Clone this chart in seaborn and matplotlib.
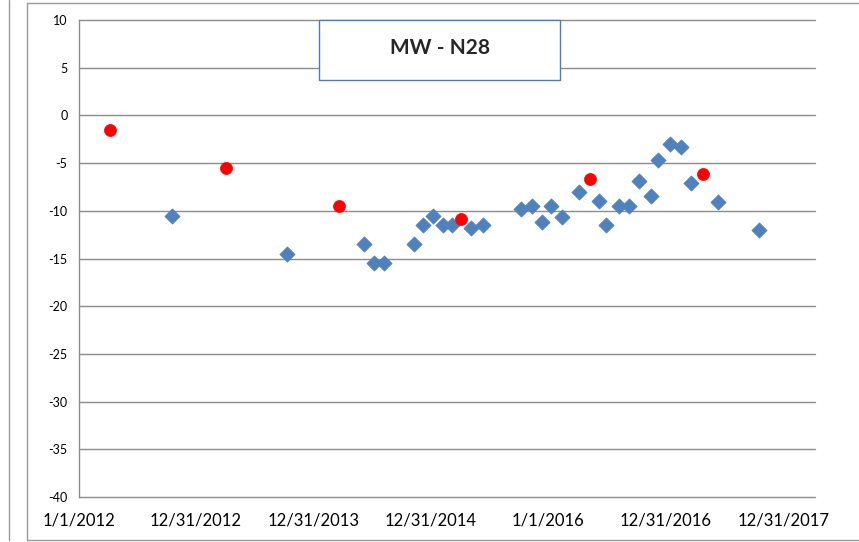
import matplotlib
matplotlib.use("Agg")
import matplotlib.pyplot as plt
from matplotlib.patches import Rectangle
from matplotlib.lines import Line2D
import seaborn as sns
import pandas as pd

# blue diamonds (monitoring readings)
blue_dates = ["2012-10-19", "2013-10-11", "2014-06-07", "2014-07-08", "2014-08-08",
              "2014-11-09", "2014-12-08", "2015-01-06", "2015-02-06", "2015-03-07",
              "2015-05-06", "2015-06-11", "2015-10-09", "2015-11-11", "2015-12-11",
              "2016-01-09", "2016-02-11", "2016-04-05", "2016-06-07", "2016-06-29",
              "2016-08-07", "2016-09-07", "2016-10-09", "2016-11-14", "2016-12-06",
              "2017-01-12", "2017-02-15", "2017-03-21", "2017-06-12", "2017-10-18"]
blue_values = [-10.5, -14.5, -13.5, -15.5, -15.5,
               -13.5, -11.5, -10.5, -11.5, -11.5,
               -11.8, -11.5, -9.8, -9.5, -11.2,
               -9.5, -10.6, -8.0, -9.0, -11.5,
               -9.5, -9.5, -6.9, -8.4, -4.7,
               -3.0, -3.3, -7.1, -9.1, -12.0]

# red circles
red_dates = ["2012-04-09", "2013-04-05", "2014-03-21", "2015-04-03", "2016-05-08", "2017-04-27"]
red_values = [-1.5, -5.5, -9.5, -10.9, -6.7, -6.1]

tick_dates = ["2012-01-01", "2012-12-31", "2013-12-31", "2014-12-31",
              "2016-01-01", "2016-12-31", "2017-12-31"]
tick_labels = ["1/1/2012", "12/31/2012", "12/31/2013", "12/31/2014",
               "1/1/2016", "12/31/2016", "12/31/2017"]
y_ticks = [10, 5, 0, -5, -10, -15, -20, -25, -30, -35, -40]

blue_df = pd.DataFrame({"date": pd.to_datetime(blue_dates), "value": blue_values})
red_df = pd.DataFrame({"date": pd.to_datetime(red_dates), "value": red_values})

sns.set_style("white")
plt.rcParams["font.family"] = ["Lato", "DejaVu Sans"]

fig = plt.figure(figsize=(8.59, 5.42), dpi=100)
ax = fig.add_axes([78.5 / 859, 45 / 542, (815 - 78.5) / 859, (497 - 20) / 542])

grid_color = "#8c8c8c"
for y in y_ticks:
    ax.axhline(y, color=grid_color, lw=1, zorder=0, clip_on=False)

sns.scatterplot(data=blue_df, x="date", y="value", marker="D", s=60,
                color="#4f81bd", edgecolor="#4f81bd", linewidth=0.5, ax=ax, zorder=3)
sns.scatterplot(data=red_df, x="date", y="value", marker="o", s=75,
                color="#ff0000", edgecolor="#ff0000", linewidth=0.5, ax=ax, zorder=4)

ax.set_ylim(-40, 10)
ax.set_yticks(y_ticks)
ax.set_yticklabels([str(v) for v in y_ticks], fontsize=9)
ax.set_xlim(pd.Timestamp("2012-01-01"), pd.Timestamp("2018-04-09"))
ax.set_xticks(pd.to_datetime(tick_dates))
ax.set_xticklabels(tick_labels, fontsize=12)
ax.tick_params(axis="both", direction="out", length=5, width=1, color=grid_color,
               colors="black")
ax.tick_params(axis="x", pad=6)
ax.tick_params(axis="y", pad=3)
ax.set_xlabel("")
ax.set_ylabel("")

for side in ["top", "right", "bottom"]:
    ax.spines[side].set_visible(False)
ax.spines["left"].set_color(grid_color)
ax.spines["left"].set_linewidth(1)

# title box
fig.patches.append(Rectangle((319 / 859, 1 - 80 / 542), (560 - 319) / 859, 60 / 542,
                             transform=fig.transFigure, facecolor="white",
                             edgecolor="#4a7ebb", lw=1, zorder=5))
fig.text(440 / 859, 1 - 48 / 542, "MW - N28", ha="center", va="center",
         fontsize=15, fontweight="bold", zorder=6)

# chart area frame and neighbouring edges
frame = "#9a9a9a"
fig.lines.append(Line2D([27 / 859, 27 / 859], [1 - 540 / 542, 1 - 3 / 542],
                        transform=fig.transFigure, color=frame, lw=1))
fig.lines.append(Line2D([27 / 859, 1], [1 - 3 / 542, 1 - 3 / 542],
                        transform=fig.transFigure, color=frame, lw=1))
fig.lines.append(Line2D([27 / 859, 1], [1 - 540 / 542, 1 - 540 / 542],
                        transform=fig.transFigure, color=frame, lw=1))
fig.lines.append(Line2D([9 / 859, 9 / 859], [1 - 540 / 542, 1],
                        transform=fig.transFigure, color=frame, lw=1))

fig.savefig("out.png", dpi=100)
